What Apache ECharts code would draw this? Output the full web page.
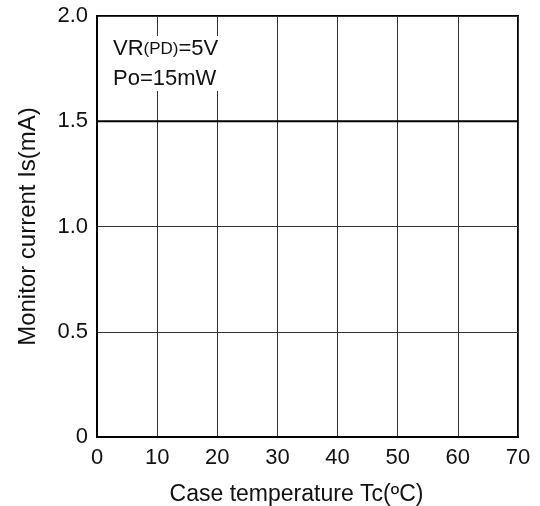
<!DOCTYPE html>
<html>
<head>
<meta charset="utf-8">
<script src="https://cdn.jsdelivr.net/npm/echarts@6/dist/echarts.min.js"></script>
<style>
html, body { margin: 0; padding: 0; background: #fff; }
#main { width: 540px; height: 506px; }
</style>
</head>
<body>
<div id="main"></div>
<script>
var temps = [0, 70];
var current = [1.5, 1.5];

var myChart = echarts.init(document.getElementById('main'));
var font = 'Liberation Sans, Arial, sans-serif';
option = {
	backgroundColor: '#fff',
	animation: false,
	title: {
		left: 107,
		top: 32,
		padding: [2, 6, 1, 6],
		backgroundColor: '#fff',
		text: '{a|VR}{b|(PD)}{a|=5V}\n{a|Po=15mW}',
		textStyle: {
			fontWeight: 'normal',
			rich: {
				a: { fontFamily: font, fontSize: 22, fontWeight: 'normal', color: '#111', lineHeight: 30 },
				b: { fontFamily: font, fontSize: 17, fontWeight: 'normal', color: '#111', lineHeight: 30 }
			}
		}
	},
	grid: {
		left: 97,
		right: 22,
		top: 16,
		bottom: 69,
		outerBoundsMode: 'none',
		containLabel: false,
		show: true,
		borderColor: '#000',
		borderWidth: 2,
		backgroundColor: 'transparent'
	},
	xAxis: {
		type: 'value',
		min: 0,
		max: 70,
		interval: 10,
		name: 'Case temperature Tc(\u00baC)',
		nameLocation: 'middle',
		nameGap: 46,
		nameTextStyle: { fontFamily: font, fontSize: 23, color: '#111', padding: [0, 22, 0, 0] },
		axisLine: { lineStyle: { color: '#000', width: 2 } },
		axisTick: { show: false },
		axisLabel: { fontFamily: font, fontSize: 22, color: '#111', margin: 10 },
		splitLine: { lineStyle: { color: '#333', width: 1 } }
	},
	yAxis: {
		type: 'value',
		min: 0,
		max: 2,
		interval: 0.5,
		name: 'Monitor current Is(mA)',
		nameLocation: 'middle',
		nameGap: 57,
		nameTextStyle: { fontFamily: font, fontSize: 24, color: '#111' },
		axisLine: { lineStyle: { color: '#000', width: 2 } },
		axisTick: { show: false },
		axisLabel: {
			fontFamily: font, fontSize: 22, color: '#111', margin: 9,
			formatter: function (v) { return v === 0 ? '0' : v.toFixed(1); }
		},
		splitLine: { lineStyle: { color: '#333', width: 1 } }
	},
	series: [{
		type: 'line',
		data: temps.map(function (t, i) { return [t, current[i]]; }),
		symbol: 'none',
		lineStyle: { color: '#000', width: 2 },
		z: 3
	}]
};
myChart.setOption(option);
</script>
</body>
</html>
